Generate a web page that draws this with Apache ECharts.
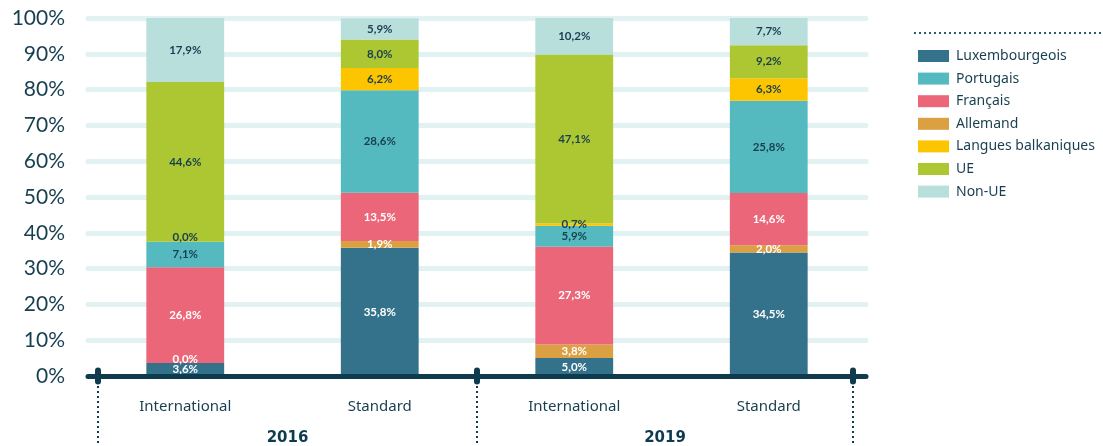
<!DOCTYPE html>
<html>
<head>
<meta charset="utf-8">
<script src="https://cdn.jsdelivr.net/npm/echarts@6/dist/echarts.min.js"></script>
<style>
  html, body { margin: 0; padding: 0; background: #ffffff; }
  #chart { width: 1103px; height: 446px; }
</style>
</head>
<body>
<div id="chart"></div>
<script>
// Categories along the x axis and their year groups
const categories = ['International', 'Standard', 'International', 'Standard'];
const years = ['2016', '2019'];
const yTicks = [0, 10, 20, 30, 40, 50, 60, 70, 80, 90, 100];

// Share of each language group (%), stacked bottom to top
const luxembourgeois = [3.6, 35.8, 5.0, 34.5];
const allemand = [0.0, 1.9, 3.8, 2.0];
const francais = [26.8, 13.5, 27.3, 14.6];
const portugais = [7.1, 28.6, 5.9, 25.8];
const balkaniques = [0.0, 6.2, 0.7, 6.3];
const ue = [44.6, 8.0, 47.1, 9.2];
const nonUe = [17.9, 5.9, 10.2, 7.7];

const DARK = '#173f50';
const AXIS = '#0f3b4f';

const seriesDefs = [
  { name: 'Luxembourgeois', data: luxembourgeois, color: '#34718a', label: '#ffffff' },
  { name: 'Allemand', data: allemand, color: '#dba042', label: '#ffffff' },
  { name: 'Français', data: francais, color: '#ec6679', label: '#ffffff' },
  { name: 'Portugais', data: portugais, color: '#55bac0', label: DARK },
  { name: 'Langues balkaniques', data: balkaniques, color: '#fdc500', label: DARK },
  { name: 'UE', data: ue, color: '#adc733', label: DARK },
  { name: 'Non-UE', data: nonUe, color: '#b8dfdc', label: DARK }
];

const legendOrder = ['Luxembourgeois', 'Portugais', 'Français', 'Allemand',
  'Langues balkaniques', 'UE', 'Non-UE'];

const fmt = v => v.toFixed(1).replace('.', ',') + '%';

const series = seriesDefs.map(s => ({
  name: s.name,
  type: 'bar',
  stack: 'total',
  barWidth: '40%',
  itemStyle: { color: s.color },
  data: s.data.map(v => v === 0
    ? { value: v, label: { offset: [0, -4] } }
    : v),
  label: {
    show: true,
    position: 'inside',
    formatter: p => fmt(p.value),
    color: s.label,
    fontFamily: 'Lato',
    fontWeight: 'bold',
    fontSize: 11.5
  },
  emphasis: { disabled: true }
}));

const chart = echarts.init(document.getElementById('chart'), null, { renderer: 'canvas' });

chart.setOption({
  animation: false,
  grid: { left: 88, right: 237, top: 18, bottom: 70, containLabel: false },
  legend: {
    data: legendOrder,
    orient: 'vertical',
    left: 913,
    top: 43,
    icon: 'rect',
    itemWidth: 31,
    itemHeight: 12,
    itemGap: 6.6,
    selectedMode: false,
    textStyle: {
      fontFamily: 'Noto Sans',
      fontSize: 14,
      lineHeight: 16,
      color: DARK,
      padding: [0, 0, 0, 2]
    }
  },
  xAxis: {
    type: 'category',
    data: categories,
    z: 5,
    axisLine: { lineStyle: { color: AXIS, width: 5, cap: 'round' } },
    axisTick: { show: false },
    axisLabel: {
      margin: 23,
      fontFamily: 'Noto Sans',
      fontSize: 15,
      color: DARK
    }
  },
  yAxis: {
    type: 'value',
    min: 0,
    max: 100,
    interval: 10,
    axisLine: { show: false },
    axisTick: { show: false },
    axisLabel: {
      margin: 23,
      fontFamily: 'Lato',
      fontSize: 21,
      color: DARK,
      formatter: v => yTicks.includes(v) ? v + '%' : ''
    },
    splitLine: { lineStyle: { color: '#e2f1f1', width: 5, cap: 'round' } }
  },
  series: series
});

// Group separators, dotted guides and year labels placed from the category scale
function drawDecorations() {
  const p0 = chart.convertToPixel({ xAxisIndex: 0 }, 0);
  const p1 = chart.convertToPixel({ xAxisIndex: 0 }, 1);
  const p3 = chart.convertToPixel({ xAxisIndex: 0 }, 3);
  const bw = p1 - p0;
  const axisY = chart.convertToPixel({ yAxisIndex: 0 }, 0);
  const left = p0 - bw / 2 + 10;
  const mid = p1 + bw / 2;
  const right = p3 + bw / 2 - 13;
  const seps = [left, mid, right];

  const elements = [];
  seps.forEach(x => {
    elements.push({
      type: 'line',
      z: 10,
      shape: { x1: x, y1: axisY + 10, x2: x, y2: 446 },
      style: { stroke: AXIS, lineWidth: 2, lineDash: [2, 3] }
    });
    elements.push({
      type: 'rect',
      z: 11,
      shape: { x: x - 3, y: axisY - 8.5, width: 6, height: 17, r: 3 },
      style: { fill: AXIS }
    });
  });
  years.forEach((yr, i) => {
    elements.push({
      type: 'text',
      z: 10,
      x: (seps[i] + seps[i + 1]) / 2,
      y: 438,
      style: {
        text: yr,
        fill: AXIS,
        font: 'bold 15px "DejaVu Sans"',
        align: 'center',
        verticalAlign: 'middle'
      }
    });
  });
  // dotted rule above the legend
  elements.push({
    type: 'line',
    shape: { x1: 914, y1: 33, x2: 1103, y2: 33 },
    style: { stroke: '#2d5b6e', lineWidth: 2, lineDash: [2, 3] }
  });
  chart.setOption({ graphic: elements });
}
drawDecorations();
</script>
</body>
</html>
